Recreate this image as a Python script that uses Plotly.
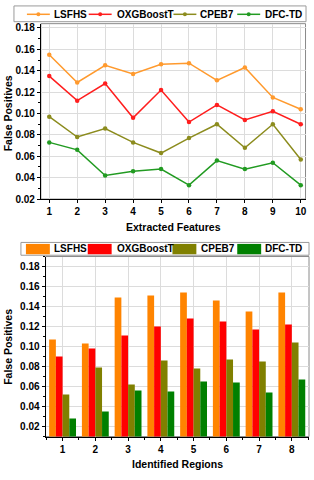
import plotly.graph_objects as go

# ---------------- data ----------------
features = [1, 2, 3, 4, 5, 6, 7, 8, 9, 10]
regions = [1, 2, 3, 4, 5, 6, 7, 8]
series_names = ["LSFHS", "OXGBoostT", "CPEB7", "DFC-TD"]

feat_lsfhs = [0.155, 0.129, 0.145, 0.137, 0.146, 0.147, 0.131, 0.143, 0.115, 0.104]
feat_oxgb = [0.135, 0.112, 0.128, 0.096, 0.122, 0.092, 0.108, 0.094, 0.102, 0.090]
feat_cpeb7 = [0.097, 0.078, 0.086, 0.073, 0.063, 0.077, 0.090, 0.068, 0.090, 0.057]
feat_dfctd = [0.073, 0.066, 0.042, 0.046, 0.048, 0.033, 0.056, 0.048, 0.054, 0.033]

reg_lsfhs = [0.107, 0.103, 0.149, 0.151, 0.154, 0.146, 0.135, 0.154]
reg_oxgb = [0.090, 0.098, 0.111, 0.120, 0.128, 0.125, 0.117, 0.122]
reg_cpeb7 = [0.052, 0.079, 0.062, 0.086, 0.078, 0.087, 0.085, 0.104]
reg_dfctd = [0.028, 0.035, 0.056, 0.055, 0.065, 0.064, 0.054, 0.067]

y_title = "False Positives"
x_title_top = "Extracted Features"
x_title_bottom = "Identified Regions"

# ---------------- styles ----------------
line_colors = ["#FF9A2E", "#FF1E1E", "#8C8C1E", "#229B22"]
bar_colors = ["#FF8400", "#FF0000", "#808000", "#008000"]

W, H = 314, 480


def px(x):
    return x / W


def py(y):
    return 1 - y / H


FONT = dict(family="Liberation Sans, Arial, sans-serif", size=10, color="black", weight="bold")
TFONT = dict(FONT, size=10.5)

fig = go.Figure()

for name, vals, col in zip(series_names, [feat_lsfhs, feat_oxgb, feat_cpeb7, feat_dfctd], line_colors):
    fig.add_trace(go.Scatter(
        x=features, y=vals, name=name, mode="lines+markers",
        line=dict(color=col, width=1.5),
        marker=dict(size=4.5, color=col),
        xaxis="x", yaxis="y", showlegend=False,
    ))

for name, vals, col in zip(series_names, [reg_lsfhs, reg_oxgb, reg_cpeb7, reg_dfctd], bar_colors):
    fig.add_trace(go.Bar(
        x=regions, y=vals, name=name,
        marker=dict(color=col, line=dict(width=0)),
        xaxis="x2", yaxis="y2", showlegend=False,
    ))

common = dict(
    showline=True, linecolor="black", linewidth=1,
    ticks="outside", ticklen=3, tickwidth=1, tickcolor="black",
    showgrid=True, gridcolor="#DCDCDC", gridwidth=1,
    zeroline=False, tickfont=FONT,
)

fig.update_layout(
    width=W, height=H,
    margin=dict(l=0, r=0, t=0, b=0),
    paper_bgcolor="white", plot_bgcolor="white",
    font=FONT,
    barmode="group", bargap=0.18, bargroupgap=0,
    xaxis=dict(domain=[px(41), px(306.5)], range=[0.7, 10.17], tick0=1, dtick=1,
               anchor="y", **common),
    yaxis=dict(domain=[py(201), py(23)], range=[0.02, 0.184], tick0=0.02, dtick=0.02,
               tickformat=".2f", anchor="x",
               minor=dict(dtick=0.01, tick0=0.01, ticks="outside", ticklen=2,
                          tickcolor="black", showgrid=False),
               **common),
    xaxis2=dict(domain=[px(45.7), px(310)], range=[0.48, 8.525], tick0=1, dtick=1,
                anchor="y2",
                minor=dict(dtick=1, tick0=0.5, ticks="outside", ticklen=2,
                           tickcolor="black", showgrid=False),
                **common),
    yaxis2=dict(domain=[py(442), py(259.3)], range=[0.01, 0.19], tick0=0.02, dtick=0.02,
                tickformat=".2f", anchor="x2",
                minor=dict(dtick=0.01, tick0=0.01, ticks="outside", ticklen=2,
                           tickcolor="black", showgrid=False),
                **common),
)

shapes = []
annotations = []

# plot frames (gray top/right borders)
for xr, yr in [("x domain", "y domain"), ("x2 domain", "y2 domain")]:
    shapes.append(dict(type="rect", xref=xr, yref=yr, x0=0, x1=1, y0=0, y1=1,
                       line=dict(color="#8A8A8A", width=1), layer="below"))

# axis titles
for txt, x, y, ang in [
    (y_title, 8, 114, -90),
    (y_title, 8, 351, -90),
    (x_title_top, 173.7, 229, 0),
    (x_title_bottom, 178, 470, 0),
]:
    annotations.append(dict(text=txt, x=px(x), y=py(y), xref="paper", yref="paper",
                            showarrow=False, textangle=ang, font=TFONT,
                            xanchor="center", yanchor="middle"))

# top legend (line + marker)
shapes.append(dict(type="rect", xref="paper", yref="paper", x0=px(14), x1=px(307),
                   y0=py(21), y1=py(5), line=dict(color="#9A9A9A", width=1),
                   fillcolor="white", layer="above"))
top_line_x = [27, 89, 174, 238]
top_text_x = [52, 115, 199, 264]
leg_y = 13.5
for name, col, lx, tx in zip(series_names, line_colors, top_line_x, top_text_x):
    shapes.append(dict(type="line", xref="paper", yref="paper", x0=px(lx), x1=px(lx + 23),
                       y0=py(leg_y), y1=py(leg_y), line=dict(color=col, width=1.5), layer="above"))
    cx = lx + 11.5
    shapes.append(dict(type="circle", xref="paper", yref="paper", x0=px(cx - 2), x1=px(cx + 2),
                       y0=py(leg_y + 2), y1=py(leg_y - 2), fillcolor=col,
                       line=dict(color=col, width=0), layer="above"))
    annotations.append(dict(text=name, x=px(tx), y=py(leg_y), xref="paper", yref="paper",
                            showarrow=False, font=FONT, xanchor="left", yanchor="middle"))

# bottom legend (swatches)
shapes.append(dict(type="rect", xref="paper", yref="paper", x0=px(21), x1=px(310),
                   y0=py(258), y1=py(245), line=dict(color="#9A9A9A", width=1),
                   fillcolor="white", layer="above"))
bot_sw_x = [26, 88, 173, 238]
bot_text_x = [52, 115, 200, 264]
bleg_y = 251.5
for name, col, sx, tx in zip(series_names, bar_colors, bot_sw_x, bot_text_x):
    shapes.append(dict(type="rect", xref="paper", yref="paper", x0=px(sx), x1=px(sx + 24),
                       y0=py(257), y1=py(246.5), fillcolor=col,
                       line=dict(width=0), layer="above"))
    annotations.append(dict(text=name, x=px(tx), y=py(bleg_y), xref="paper", yref="paper",
                            showarrow=False, font=FONT, xanchor="left", yanchor="middle"))

fig.update_layout(shapes=shapes, annotations=annotations)

fig.write_html("out.html", config={"displayModeBar": False},
               post_script="document.body.style.margin='0px';document.body.style.overflow='hidden';")
